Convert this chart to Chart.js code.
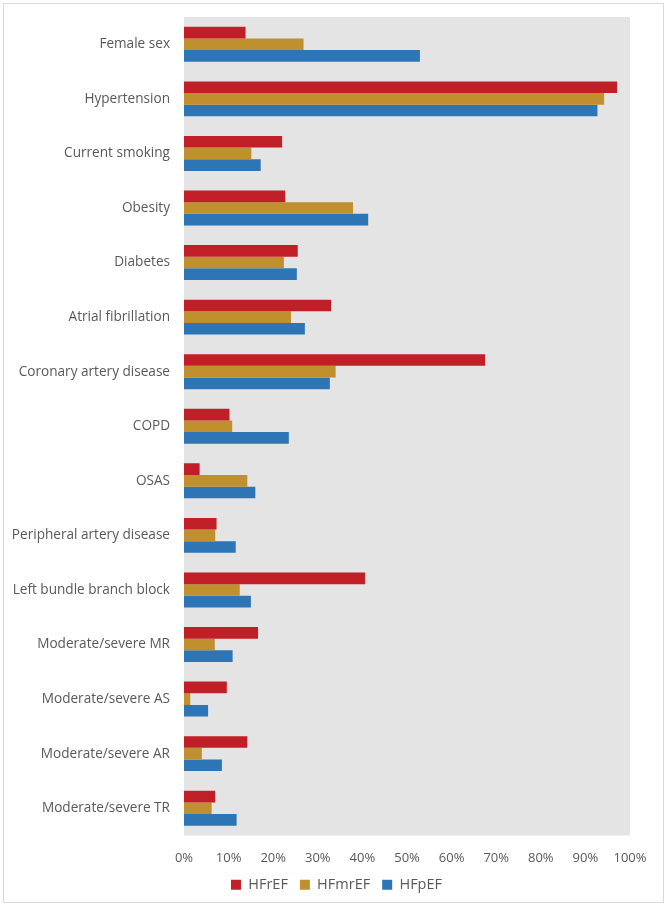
<!DOCTYPE html>
<html>
<head>
<meta charset="utf-8">
<script src="https://cdn.jsdelivr.net/npm/chart.js@4.4.1/dist/chart.umd.min.js"></script>
<style>
  html, body { margin: 0; padding: 0; background: #fff; }
  #wrap { position: relative; width: 669px; height: 908px; }
  #frame {
    position: absolute; left: 3px; top: 3px; width: 661px; height: 900px;
    border: 1px solid #d9d9d9; box-sizing: border-box; pointer-events: none;
  }
  canvas { position: absolute; left: 0; top: 0; }
</style>
</head>
<body>
<div id="wrap">
  <canvas id="chart" width="669" height="908"></canvas>
  <div id="frame"></div>
</div>
<script>
"use strict";

// ── Data ──────────────────────────────────────────────────────────────────────
const categories = [
  "Female sex", "Hypertension", "Current smoking", "Obesity", "Diabetes",
  "Atrial fibrillation", "Coronary artery disease", "COPD", "OSAS",
  "Peripheral artery disease", "Left bundle branch block",
  "Moderate/severe MR", "Moderate/severe AS", "Moderate/severe AR",
  "Moderate/severe TR",
];
const hfrEF  = [13.8, 97.1, 22.0, 22.7, 25.5, 33.0, 67.5, 10.2,  3.5,  7.3, 40.6, 16.6, 9.6, 14.2,  7.0];
const hfmrEF = [26.8, 94.2, 15.1, 37.9, 22.4, 24.0, 34.0, 10.8, 14.2,  7.0, 12.5,  6.9, 1.4,  4.0,  6.2];
const hfpEF  = [52.9, 92.7, 17.2, 41.3, 25.3, 27.1, 32.7, 23.5, 16.0, 11.6, 15.0, 10.9, 5.4,  8.5, 11.8];

const seriesNames = ["HFrEF", "HFmrEF", "HFpEF"];
const xTicks      = [0, 10, 20, 30, 40, 50, 60, 70, 80, 90, 100];

// ── Styling ───────────────────────────────────────────────────────────────────
const RED   = "#c01f28";
const GOLD  = "#bf902d";
const BLUE  = "#2e75b6";
const TEXT  = "#595959";
const PLOT  = "#e4e4e4";
const FONT  = "'Open Sans', 'Liberation Sans', sans-serif";

// grey plot background
const plotBg = {
  id: "plotBg",
  beforeDraw(chart) {
    const { ctx, chartArea: a } = chart;
    ctx.save();
    ctx.fillStyle = PLOT;
    ctx.fillRect(a.left, a.top, a.right - a.left, a.bottom - a.top);
    ctx.restore();
  },
};

// centre the legend on the whole canvas, not just the padded box
const legendCentre = {
  id: "legendCentre",
  afterLayout(chart) {
    const lg = chart.legend;
    if (!lg) return;
    lg.left  = 0;
    lg.right = chart.width + 4;
    lg.width = lg.right - lg.left;
  },
};

function dataset(label, data, color) {
  return {
    label,
    data,
    backgroundColor: color,
    borderColor: color,
    borderWidth: 0,
    categoryPercentage: 0.64,
    barPercentage: 1.0,
  };
}

// ── Chart ─────────────────────────────────────────────────────────────────────
const ctx = document.getElementById("chart").getContext("2d");
new Chart(ctx, {
  type: "bar",
  data: {
    labels: categories,
    datasets: [
      dataset(seriesNames[0], hfrEF,  RED),
      dataset(seriesNames[1], hfmrEF, GOLD),
      dataset(seriesNames[2], hfpEF,  BLUE),
    ],
  },
  options: {
    indexAxis: "y",
    responsive: false,
    animation: false,
    layout: { padding: { left: 5, right: 39, top: 17, bottom: 6 } },
    plugins: {
      legend: {
        position: "bottom",
        labels: {
          color: TEXT,
          font: { family: FONT, size: 14.5 },
          boxWidth: 10,
          boxHeight: 10,
          padding: 12,
        },
      },
      tooltip: { enabled: false },
    },
    scales: {
      x: {
        min: 0,
        max: 100,
        afterBuildTicks: (s) => { s.ticks = xTicks.map(v => ({ value: v })); },
        ticks: {
          color: TEXT,
          font: { family: FONT, size: 13 },
          padding: 7,
          callback: (v) => v + "%",
          maxRotation: 0,
        },
        grid: { display: false },
        border: { display: false },
        afterFit: (s) => { s.height = 30; },
      },
      y: {
        ticks: {
          color: TEXT,
          font: { family: FONT, size: 13.6 },
          padding: 6,
          autoSkip: false,
        },
        grid: { display: false },
        border: { display: false },
        afterFit: (s) => { s.width = 179; },
      },
    },
  },
  plugins: [plotBg, legendCentre],
});
</script>
</body>
</html>
